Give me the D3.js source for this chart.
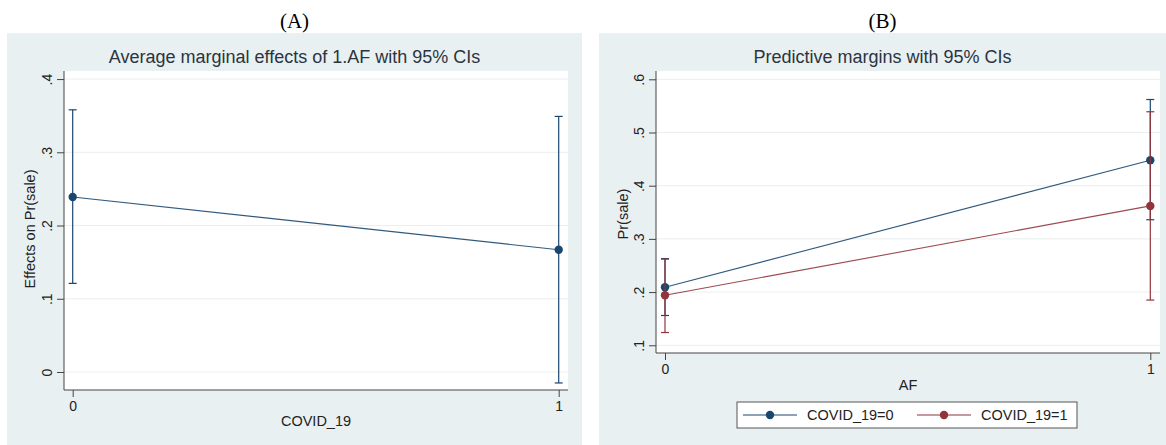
<!DOCTYPE html>
<html><head><meta charset="utf-8">
<script src="https://cdn.jsdelivr.net/npm/d3@7"></script>
<style>
html,body{margin:0;padding:0;background:#fff;}
svg{display:block;}
text{font-family:"Liberation Sans",Arial,sans-serif;}
</style></head>
<body>
<svg id="chart" width="1166" height="445"></svg>
<script>
// ---- Data ----
const covidCats = [0, 1];
const ameEst = [0.239, 0.167];
const ameLo  = [0.121, -0.015];
const ameHi  = [0.358, 0.349];
const ameTicks = [0, 0.1, 0.2, 0.3, 0.4];
const ameTickLabels = ["0", ".1", ".2", ".3", ".4"];

const afCats = [0, 1];
const seriesNames = ["COVID_19=0", "COVID_19=1"];
const pm0Est = [0.209, 0.448];
const pm0Lo  = [0.156, 0.336];
const pm0Hi  = [0.263, 0.562];
const pm1Est = [0.194, 0.362];
const pm1Lo  = [0.124, 0.185];
const pm1Hi  = [0.262, 0.539];
const pmTicks = [0.1, 0.2, 0.3, 0.4, 0.5, 0.6];
const pmTickLabels = [".1", ".2", ".3", ".4", ".5", ".6"];
const xTickLabels = ["0", "1"];

const NAVY = "#1a476f", MAROON = "#90353b";
const BG = "#e9f0f2", GRID = "#eaeef0", AXIS = "#444", TXT = "#222";
const FONT = '"Liberation Sans",Arial,sans-serif';

const svg = d3.select("#chart");

function panel(opt) {
  const g = svg.append("g");
  g.append("rect").attr("x", opt.px0).attr("y", 33).attr("width", opt.px1 - opt.px0).attr("height", 445 - 33).attr("fill", BG);
  g.append("rect").attr("x", opt.x0).attr("y", opt.y0).attr("width", opt.x1 - opt.x0).attr("height", opt.y1 - opt.y0).attr("fill", "#fff");
  svg.append("text").attr("x", (opt.px0 + opt.px1) / 2).attr("y", 28).attr("text-anchor", "middle")
    .style("font-family", '"Liberation Serif","Times New Roman",serif').attr("font-size", 21).attr("fill", "#000").text(opt.tag);
  g.append("text").attr("x", (opt.px0 + opt.px1) / 2).attr("y", 63).attr("text-anchor", "middle")
    .attr("font-size", 18).attr("fill", "#2b3440").text(opt.title);
  const x = d3.scaleLinear().domain([0, 1]).range([opt.xa, opt.xb]);
  const y = d3.scaleLinear().domain(opt.yDom).range([opt.y1, opt.y0]);
  // grid
  g.append("g").selectAll("line").data(opt.ticks).join("line")
    .attr("x1", opt.x0).attr("x2", opt.x1).attr("y1", d => y(d)).attr("y2", d => y(d))
    .attr("stroke", GRID).attr("stroke-width", 1);
  // y axis
  const ya = g.append("g").attr("transform", `translate(${opt.x0},0)`)
    .call(d3.axisLeft(y).tickValues(opt.ticks).tickSize(7).tickPadding(3).tickFormat((d, i) => opt.tickLabels[i]));
  ya.select(".domain").remove();
  ya.selectAll(".tick line").attr("stroke", AXIS);
  ya.selectAll(".tick text").attr("transform", "rotate(-90)").attr("x", 0).attr("y", -12).attr("dy", 0)
    .attr("text-anchor", "middle").attr("font-size", 14).attr("fill", TXT).style("font-family", FONT);
  g.append("line").attr("x1", opt.x0).attr("x2", opt.x0).attr("y1", opt.y0).attr("y2", opt.y1).attr("stroke", AXIS);
  // x axis
  const xa = g.append("g").attr("transform", `translate(0,${opt.y1})`)
    .call(d3.axisBottom(x).tickValues([0, 1]).tickSize(7).tickPadding(4).tickFormat((d, i) => xTickLabels[i]));
  xa.select(".domain").remove();
  xa.selectAll(".tick line").attr("stroke", AXIS);
  xa.selectAll(".tick text").attr("font-size", 14).attr("fill", TXT).style("font-family", FONT);
  g.append("line").attr("x1", opt.x0).attr("x2", opt.x1).attr("y1", opt.y1).attr("y2", opt.y1).attr("stroke", AXIS);
  // axis titles
  g.append("text").attr("transform", `translate(${opt.ytx},${opt.ytyc}) rotate(-90)`)
    .attr("text-anchor", "middle").attr("dy", "0.35em").attr("font-size", 14.5).attr("fill", TXT).text(opt.yTitle);
  g.append("text").attr("x", (opt.x0 + opt.x1) / 2).attr("y", opt.xty).attr("text-anchor", "middle")
    .attr("dy", "0.35em").attr("font-size", 14.5).attr("fill", TXT).text(opt.xTitle);
  return {g, x, y};
}

function series(p, cats, est, lo, hi, color) {
  const {g, x, y} = p;
  const line = d3.line().x((d, i) => x(cats[i])).y(d => y(d));
  g.append("path").datum(est).attr("d", line).attr("fill", "none").attr("stroke", color).attr("stroke-width", 1.1).attr("stroke-opacity", 0.9);
  const eg = g.append("g").attr("stroke", color).attr("stroke-width", 1.2);
  cats.forEach((c, i) => {
    eg.append("line").attr("x1", x(c)).attr("x2", x(c)).attr("y1", y(lo[i])).attr("y2", y(hi[i]));
    eg.append("line").attr("x1", x(c) - 4).attr("x2", x(c) + 4).attr("y1", y(lo[i])).attr("y2", y(lo[i]));
    eg.append("line").attr("x1", x(c) - 4).attr("x2", x(c) + 4).attr("y1", y(hi[i])).attr("y2", y(hi[i]));
  });
  g.append("g").selectAll("circle").data(est).join("circle")
    .attr("cx", (d, i) => x(cats[i])).attr("cy", d => y(d)).attr("r", 4.2).attr("fill", color);
}

// Panel A
const pA = panel({
  px0: 7, px1: 582, x0: 64, x1: 568, y0: 71, y1: 390,
  xa: 72.7, xb: 558.7, yDom: [-0.0246, 0.411],
  ticks: ameTicks, tickLabels: ameTickLabels, tag: "(A)",
  title: "Average marginal effects of 1.AF with 95% CIs",
  yTitle: "Effects on Pr(sale)", xTitle: "COVID_19", ytx: 30, ytyc: 229, xty: 421
});
series(pA, covidCats, ameEst, ameLo, ameHi, NAVY);

// Panel B
const pB = panel({
  px0: 599, px1: 1166, x0: 656, x1: 1160, y0: 71, y1: 353,
  xa: 665, xb: 1150.3, yDom: [0.0855, 0.6156],
  ticks: pmTicks, tickLabels: pmTickLabels, tag: "(B)",
  title: "Predictive margins with 95% CIs",
  yTitle: "Pr(sale)", xTitle: "AF", ytx: 623, ytyc: 214, xty: 385
});
series(pB, afCats, pm0Est, pm0Lo, pm0Hi, NAVY);
series(pB, afCats, pm1Est, pm1Lo, pm1Hi, MAROON);

// Legend
const lg = svg.append("g");
lg.append("rect").attr("x", 737).attr("y", 402).attr("width", 340).attr("height", 26)
  .attr("fill", "#fff").attr("stroke", "#555").attr("stroke-width", 1);
const legItems = [
  {name: seriesNames[0], color: NAVY, x: 743},
  {name: seriesNames[1], color: MAROON, x: 917}
];
legItems.forEach(it => {
  lg.append("line").attr("x1", it.x).attr("x2", it.x + 54).attr("y1", 415).attr("y2", 415).attr("stroke", it.color).attr("stroke-width", 1.1);
  lg.append("circle").attr("cx", it.x + 27).attr("cy", 415).attr("r", 4.2).attr("fill", it.color);
  lg.append("text").attr("x", it.x + 64).attr("y", 415).attr("dy", "0.35em").attr("font-size", 14.5).attr("fill", TXT).text(it.name);
});
</script>
</body></html>
